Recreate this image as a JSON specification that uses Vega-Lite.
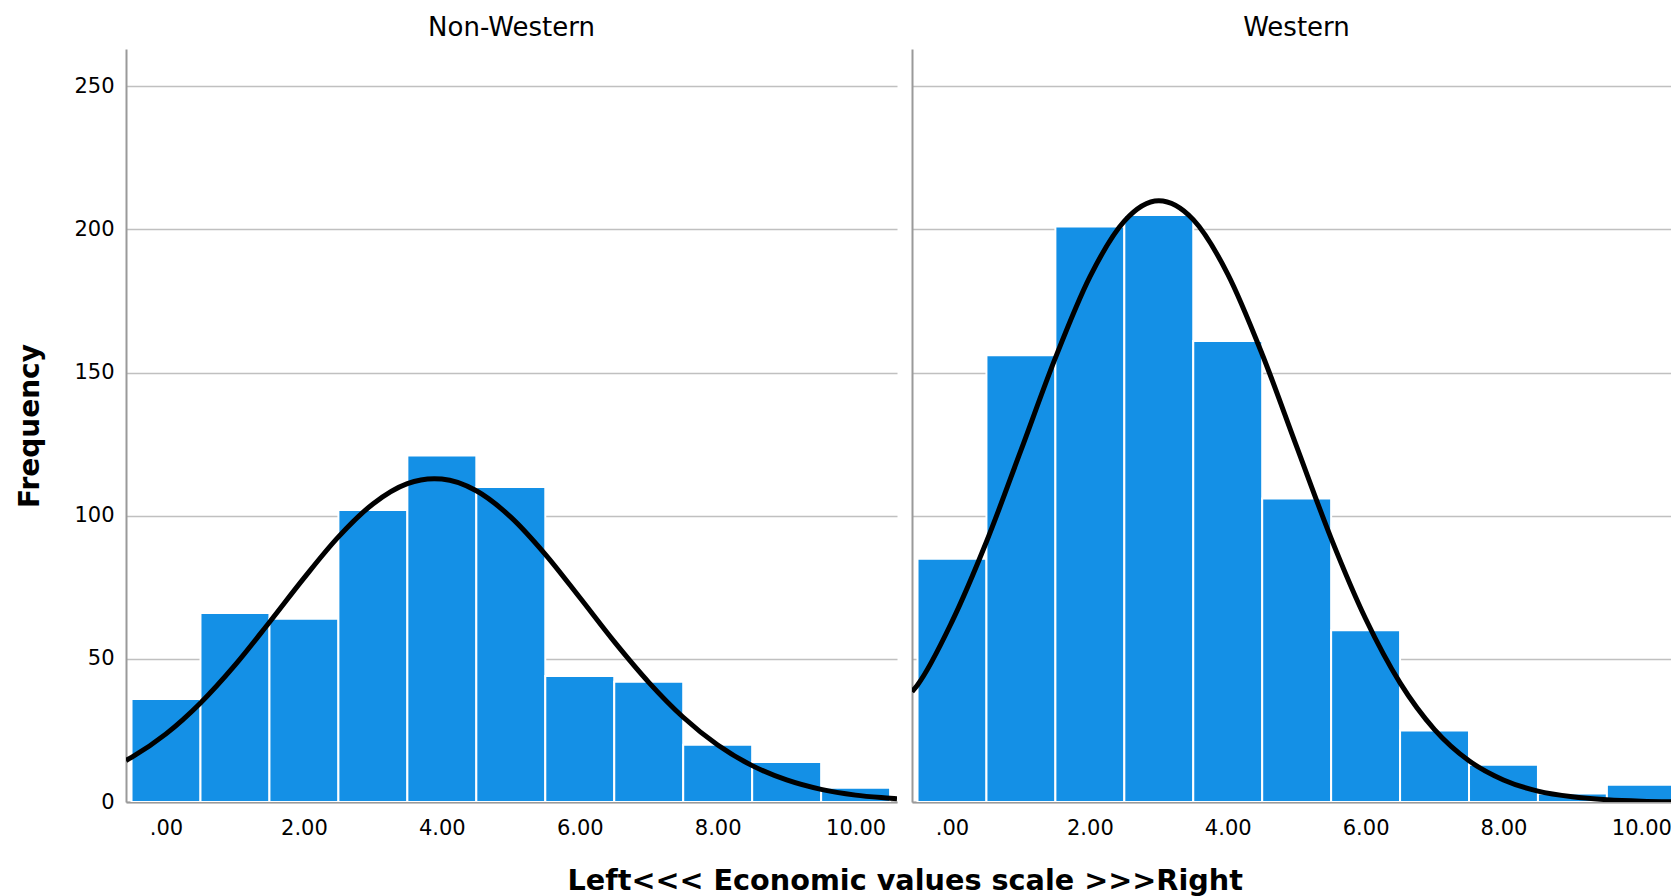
{
  "$schema": "https://vega.github.io/schema/vega-lite/v6.json",
  "background": "white",
  "padding": {"left": 16, "top": 15, "right": 0, "bottom": 0},
  "spacing": 15,
  "datasets": {
    "bins": [
      {"group": "Non-Western", "score": 0, "bin_start": -0.5, "bin_end": 0.5, "count": 36},
      {"group": "Non-Western", "score": 1, "bin_start": 0.5, "bin_end": 1.5, "count": 66},
      {"group": "Non-Western", "score": 2, "bin_start": 1.5, "bin_end": 2.5, "count": 64},
      {"group": "Non-Western", "score": 3, "bin_start": 2.5, "bin_end": 3.5, "count": 102},
      {"group": "Non-Western", "score": 4, "bin_start": 3.5, "bin_end": 4.5, "count": 121},
      {"group": "Non-Western", "score": 5, "bin_start": 4.5, "bin_end": 5.5, "count": 110},
      {"group": "Non-Western", "score": 6, "bin_start": 5.5, "bin_end": 6.5, "count": 44},
      {"group": "Non-Western", "score": 7, "bin_start": 6.5, "bin_end": 7.5, "count": 42},
      {"group": "Non-Western", "score": 8, "bin_start": 7.5, "bin_end": 8.5, "count": 20},
      {"group": "Non-Western", "score": 9, "bin_start": 8.5, "bin_end": 9.5, "count": 14},
      {"group": "Non-Western", "score": 10, "bin_start": 9.5, "bin_end": 10.5, "count": 5},
      {"group": "Western", "score": 0, "bin_start": -0.5, "bin_end": 0.5, "count": 85},
      {"group": "Western", "score": 1, "bin_start": 0.5, "bin_end": 1.5, "count": 156},
      {"group": "Western", "score": 2, "bin_start": 1.5, "bin_end": 2.5, "count": 201},
      {"group": "Western", "score": 3, "bin_start": 2.5, "bin_end": 3.5, "count": 205},
      {"group": "Western", "score": 4, "bin_start": 3.5, "bin_end": 4.5, "count": 161},
      {"group": "Western", "score": 5, "bin_start": 4.5, "bin_end": 5.5, "count": 106},
      {"group": "Western", "score": 6, "bin_start": 5.5, "bin_end": 6.5, "count": 60},
      {"group": "Western", "score": 7, "bin_start": 6.5, "bin_end": 7.5, "count": 25},
      {"group": "Western", "score": 8, "bin_start": 7.5, "bin_end": 8.5, "count": 13},
      {"group": "Western", "score": 9, "bin_start": 8.5, "bin_end": 9.5, "count": 3},
      {"group": "Western", "score": 10, "bin_start": 9.5, "bin_end": 10.5, "count": 6}
    ],
    "curve": [
      {"group": "Non-Western", "x": -0.58, "freq": 14.5},
      {"group": "Non-Western", "x": -0.5, "freq": 15.6},
      {"group": "Non-Western", "x": 0, "freq": 23.8},
      {"group": "Non-Western", "x": 0.5, "freq": 34.6},
      {"group": "Non-Western", "x": 1, "freq": 47.8},
      {"group": "Non-Western", "x": 1.5, "freq": 62.8},
      {"group": "Non-Western", "x": 2, "freq": 78.2},
      {"group": "Non-Western", "x": 2.5, "freq": 92.6},
      {"group": "Non-Western", "x": 3, "freq": 104.1},
      {"group": "Non-Western", "x": 3.5, "freq": 111.2},
      {"group": "Non-Western", "x": 3.89, "freq": 112.9},
      {"group": "Non-Western", "x": 4, "freq": 112.8},
      {"group": "Non-Western", "x": 4.5, "freq": 108.7},
      {"group": "Non-Western", "x": 5, "freq": 99.5},
      {"group": "Non-Western", "x": 5.5, "freq": 86.5},
      {"group": "Non-Western", "x": 6, "freq": 71.4},
      {"group": "Non-Western", "x": 6.5, "freq": 56.0},
      {"group": "Non-Western", "x": 7, "freq": 41.8},
      {"group": "Non-Western", "x": 7.5, "freq": 29.6},
      {"group": "Non-Western", "x": 8, "freq": 19.9},
      {"group": "Non-Western", "x": 8.5, "freq": 12.7},
      {"group": "Non-Western", "x": 9, "freq": 7.7},
      {"group": "Non-Western", "x": 9.5, "freq": 4.4},
      {"group": "Non-Western", "x": 10, "freq": 2.4},
      {"group": "Non-Western", "x": 10.5, "freq": 1.3},
      {"group": "Non-Western", "x": 10.6, "freq": 1.1},
      {"group": "Western", "x": -0.58, "freq": 38.5},
      {"group": "Western", "x": -0.5, "freq": 40.9},
      {"group": "Western", "x": 0, "freq": 63.0},
      {"group": "Western", "x": 0.5, "freq": 90.9},
      {"group": "Western", "x": 1, "freq": 122.8},
      {"group": "Western", "x": 1.5, "freq": 155.1},
      {"group": "Western", "x": 2, "freq": 183.4},
      {"group": "Western", "x": 2.5, "freq": 202.9},
      {"group": "Western", "x": 3, "freq": 210.0},
      {"group": "Western", "x": 3.5, "freq": 203.4},
      {"group": "Western", "x": 4, "freq": 184.4},
      {"group": "Western", "x": 4.5, "freq": 156.4},
      {"group": "Western", "x": 5, "freq": 124.1},
      {"group": "Western", "x": 5.5, "freq": 92.1},
      {"group": "Western", "x": 6, "freq": 64.0},
      {"group": "Western", "x": 6.5, "freq": 41.6},
      {"group": "Western", "x": 7, "freq": 25.3},
      {"group": "Western", "x": 7.5, "freq": 14.4},
      {"group": "Western", "x": 8, "freq": 7.7},
      {"group": "Western", "x": 8.5, "freq": 3.8},
      {"group": "Western", "x": 9, "freq": 1.8},
      {"group": "Western", "x": 9.5, "freq": 0.8},
      {"group": "Western", "x": 10, "freq": 0.3},
      {"group": "Western", "x": 10.5, "freq": 0.1}
    ]
  },
  "title": {
    "text": "Left<<< Economic values scale >>>Right",
    "orient": "bottom",
    "anchor": "middle",
    "baseline": "alphabetic",
    "offset": 52,
    "dx": 61,
    "fontSize": 28.7,
    "fontWeight": "bold",
    "font": "DejaVu Sans",
    "color": "#000000"
  },
  "config": {
    "view": {"stroke": null},
    "font": "DejaVu Sans",
    "title": {"font": "DejaVu Sans", "color": "#000000"},
    "axis": {
      "labelFont": "DejaVu Sans",
      "labelColor": "#000000",
      "labelFontSize": 21,
      "titleFont": "DejaVu Sans",
      "titleColor": "#000000",
      "domainColor": "#9a9a9a",
      "domainWidth": 2,
      "ticks": false,
      "gridColor": "#c0c0c0",
      "gridWidth": 1.6
    },
    "axisX": {"grid": false, "labelPadding": 15},
    "axisY": {"grid": true, "labelPadding": 12}
  },
  "hconcat": [
    {
      "width": 771,
      "height": 753,
      "title": {"text": "Non-Western", "fontSize": 26, "fontWeight": "normal", "baseline": "alphabetic", "offset": -13, "anchor": "middle"},
      "layer": [
        {
          "data": {"name": "bins"},
          "transform": [{"filter": "datum.group === 'Non-Western'"}],
          "mark": {"type": "bar", "orient": "vertical", "color": "#1490e6", "stroke": "#ffffff", "strokeWidth": 2, "clip": true},
          "encoding": {
            "x": {
              "field": "bin_start", "type": "quantitative",
              "scale": {"domain": [-0.58, 10.6], "nice": false, "zero": false, "padding": 0},
              "axis": {"title": null, "values": [0, 2, 4, 6, 8, 10], "labelExpr": "datum.value === 0 ? '.00' : format(datum.value, '.2f')"}
            },
            "x2": {"field": "bin_end"},
            "y": {
              "field": "count", "type": "quantitative",
              "scale": {"domain": [0, 263], "nice": false, "padding": 0},
              "axis": {"title": "Frequency", "values": [0, 50, 100, 150, 200, 250], "titleFontSize": 28, "titleFontWeight": "bold", "titlePadding": 29}
            },
            "y2": {"datum": 0}
          }
        },
        {
          "data": {"name": "curve"},
          "transform": [{"filter": "datum.group === 'Non-Western'"}],
          "mark": {"type": "line", "color": "#000000", "strokeWidth": 5, "interpolate": "monotone", "clip": true},
          "encoding": {
            "x": {"field": "x", "type": "quantitative", "title": null},
            "y": {"field": "freq", "type": "quantitative", "title": "Frequency"}
          }
        }
      ]
    },
    {
      "width": 759,
      "height": 753,
      "title": {"text": "Western", "fontSize": 26, "fontWeight": "normal", "baseline": "alphabetic", "offset": -13, "anchor": "middle", "dx": 5},
      "layer": [
        {
          "data": {"name": "bins"},
          "transform": [{"filter": "datum.group === 'Western'"}],
          "mark": {"type": "bar", "orient": "vertical", "color": "#1490e6", "stroke": "#ffffff", "strokeWidth": 2, "clip": true},
          "encoding": {
            "x": {
              "field": "bin_start", "type": "quantitative",
              "scale": {"domain": [-0.58, 10.43], "nice": false, "zero": false, "padding": 0},
              "axis": {"title": null, "values": [0, 2, 4, 6, 8, 10], "labelExpr": "datum.value === 0 ? '.00' : format(datum.value, '.2f')"}
            },
            "x2": {"field": "bin_end"},
            "y": {
              "field": "count", "type": "quantitative",
              "scale": {"domain": [0, 263], "nice": false, "padding": 0},
              "axis": {"title": null, "labels": false, "values": [0, 50, 100, 150, 200, 250]}
            },
            "y2": {"datum": 0}
          }
        },
        {
          "data": {"name": "curve"},
          "transform": [{"filter": "datum.group === 'Western'"}],
          "mark": {"type": "line", "color": "#000000", "strokeWidth": 5, "interpolate": "monotone", "clip": true},
          "encoding": {
            "x": {"field": "x", "type": "quantitative", "title": null},
            "y": {"field": "freq", "type": "quantitative", "title": null}
          }
        }
      ]
    }
  ]
}
